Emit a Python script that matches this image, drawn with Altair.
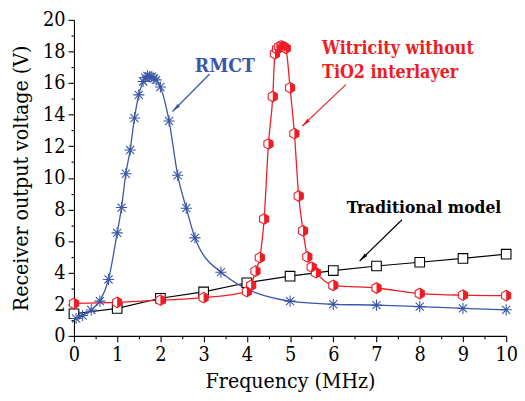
import math
import altair as alt
import pandas as pd

# ---- data ----
trad_f = [0, 1, 2, 3, 4, 5, 6, 7, 8, 9, 10]
trad_v = [1.4, 1.74, 2.38, 2.78, 3.36, 3.78, 4.13, 4.42, 4.66, 4.9, 5.17]

rmct_f = [0.05, 0.2, 0.4, 0.6, 0.8, 1.0, 1.1, 1.2, 1.3, 1.4, 1.5, 1.6, 1.65, 1.7,
          1.75, 1.8, 1.85, 1.9, 2.0, 2.2, 2.4, 2.6, 2.8, 3.4, 5, 6, 7, 8, 9, 10]
rmct_v = [1.1, 1.29, 1.64, 2.2, 3.57, 6.52, 8.12, 10.26, 11.76, 13.79, 15.25, 16.1,
          16.35, 16.45, 16.4, 16.4, 16.3, 16.2, 15.75, 13.6, 10.16, 8.08, 6.2, 4.03,
          2.2, 2.0, 1.95, 1.85, 1.74, 1.65]

wit_f = [0, 1, 2, 3, 4.0, 4.1, 4.2, 4.3, 4.4, 4.5, 4.6, 4.65, 4.7, 4.75, 4.8, 4.85,
         4.9, 5.0, 5.1, 5.2, 5.3, 5.4, 5.5, 5.6, 6, 7, 8, 9, 10]
wit_v = [2.05, 2.12, 2.26, 2.42, 2.8, 3.2, 4.1, 4.95, 7.4, 12.15, 15.15, 17.85, 18.15,
         18.3, 18.35, 18.3, 18.2, 15.7, 12.8, 8.85, 6.65, 5.0, 4.35, 4.0, 3.2, 3.03,
         2.68, 2.58, 2.55]

# annotations
label_text = ["RMCT", "Witricity without", "TiO2 interlayer", "Traditional model"]
label_f = [3.49, 5.74, 5.74, 6.31]
label_v = [17.05, 18.15, 16.6, 8.1]
label_color = ["#3a56a8", "#ee1c24", "#ee1c24", "#000000"]
label_align = ["center", "left", "left", "left"]
label_size = [19.5, 18, 18, 17.5]

arrow_f1 = [3.14, 6.29, 7.59]
arrow_v1 = [16.57, 15.9, 7.35]
arrow_f2 = [2.28, 5.28, 6.61]
arrow_v2 = [14.2, 13.27, 4.74]
arrow_color = ["#3a56a8", "#ee1c24", "#000000"]

BLUE = "#3a56a8"
RED = "#ee1c24"
W, H = 439, 321
PX_X = W / 10.0
PX_Y = H / 20.0

trad = pd.DataFrame({"f": trad_f, "v": trad_v})
rmct = pd.DataFrame({"f": rmct_f, "v": rmct_v})
wit = pd.DataFrame({"f": wit_f, "v": wit_v})

angles = []
for a, b, c, d in zip(arrow_f1, arrow_v1, arrow_f2, arrow_v2):
    dx = (c - a) * PX_X
    dy = -(d - b) * PX_Y
    angles.append(math.degrees(math.atan2(dx, -dy)) % 360)
arrows = pd.DataFrame({"f": arrow_f1, "v": arrow_v1, "f2": arrow_f2, "v2": arrow_v2,
                       "c": arrow_color, "ang": angles})
heads = pd.DataFrame({"f": arrow_f2, "v": arrow_v2, "c": arrow_color, "ang": angles})
labels = pd.DataFrame({"t": label_text, "f": label_f, "v": label_v,
                       "c": label_color, "al": label_align, "s": label_size})

FONT = "DejaVu Serif Condensed, DejaVu Serif"

x_axis = alt.Axis(
    values=[i * 0.5 for i in range(21)],
    labelExpr="datum.value % 1 === 0 ? format(datum.value, 'd') : ''",
    tickSize={"condition": {"test": "datum.value % 1 === 0", "value": 6}, "value": 3},
    title="Frequency (MHz)", labelOverlap=False, labelFlush=False,
    labelPadding=3, titleBaseline="alphabetic", titleY=52,
)
y_axis = alt.Axis(
    values=list(range(21)),
    labelExpr="datum.value % 2 === 0 ? format(datum.value, 'd') : ''",
    tickSize={"condition": {"test": "datum.value % 2 === 0", "value": 6}, "value": 3},
    title="Receiver output voltage (V)", labelOverlap=False, labelFlush=False,
    labelPadding=3, titlePadding=10,
)
X = alt.X("f:Q", scale=alt.Scale(domain=[0, 10], nice=False), axis=x_axis)
Y = alt.Y("v:Q", scale=alt.Scale(domain=[0, 20], nice=False), axis=y_axis)

HEX = "M0,-1L0.866,-0.5L0.866,0.5L0,1L-0.866,0.5L-0.866,-0.5Z"
HALF = "M0,-1L0.866,-0.5L0.866,0.5L0,1Z"
STAR = "M0,-1L0,1M-1,0L1,0M-0.72,-0.72L0.72,0.72M-0.72,0.72L0.72,-0.72"
HEAD = "M0,0L0.42,2L-0.42,2Z"

trad_line = alt.Chart(trad).mark_line(color="black", strokeWidth=1.2).encode(x=X, y=Y)
trad_pts = alt.Chart(trad).mark_point(shape="square", size=95, filled=True, fill="white",
                                      stroke="black", strokeWidth=1.1, opacity=1).encode(x=X, y=Y)

rmct_line = alt.Chart(rmct).mark_line(color=BLUE, strokeWidth=1.3, interpolate="monotone").encode(x=X, y=Y)
rmct_pts = alt.Chart(rmct).mark_point(shape=STAR, size=130, filled=False, stroke=BLUE,
                                      strokeWidth=1.1, opacity=1).encode(x=X, y=Y)

wit_line = alt.Chart(wit).mark_line(color=RED, strokeWidth=1.3, interpolate="monotone").encode(x=X, y=Y)
wit_pts = alt.Chart(wit).mark_point(shape=HEX, size=115, filled=True, fill="white",
                                    stroke=RED, strokeWidth=1.1, opacity=1).encode(x=X, y=Y)
wit_half = alt.Chart(wit).mark_point(shape=HALF, size=115, filled=True, fill=RED,
                                     strokeWidth=0, opacity=1).encode(x=X, y=Y)

arrow_lines = alt.Chart(arrows).mark_rule(strokeWidth=1.2).encode(
    x=X, y=Y, x2="f2:Q", y2="v2:Q",
    color=alt.Color("c:N", scale=None))
arrow_heads = alt.Chart(heads).mark_point(shape=HEAD, size=81, filled=True, opacity=1,
                                          strokeWidth=0).encode(
    x=X, y=Y, angle=alt.Angle("ang:Q", scale=None),
    color=alt.Color("c:N", scale=None))

text_center = alt.Chart(labels).transform_filter("datum.al == 'center'").mark_text(
    font=FONT, fontWeight="bold", align="center", baseline="middle").encode(
    x=X, y=Y, text="t:N", color=alt.Color("c:N", scale=None),
    size=alt.Size("s:Q", scale=None))
text_left = alt.Chart(labels).transform_filter("datum.al == 'left'").mark_text(
    font=FONT, fontWeight="bold", align="left", baseline="middle").encode(
    x=X, y=Y, text="t:N", color=alt.Color("c:N", scale=None),
    size=alt.Size("s:Q", scale=None))

chart = alt.layer(
    trad_line, rmct_line, wit_line,
    trad_pts, wit_pts, wit_half, rmct_pts,
    arrow_lines, arrow_heads, text_center, text_left,
).properties(
    width=W, height=H,
    autosize=alt.AutoSizeParams(type="none"),
    padding={"left": 67, "top": 9, "right": 11, "bottom": 55},
).configure_view(stroke=None).configure_axis(
    grid=False, domainColor="black", tickColor="black", domainWidth=1.1, tickWidth=1.1,
    labelFont=FONT, titleFont=FONT, labelFontSize=20, titleFontSize=21.5,
    labelColor="black", titleColor="black", titleFontWeight="normal", labelOverlap=False,
)

chart.save("out.html", embed_options={"renderer": "svg", "actions": False})
